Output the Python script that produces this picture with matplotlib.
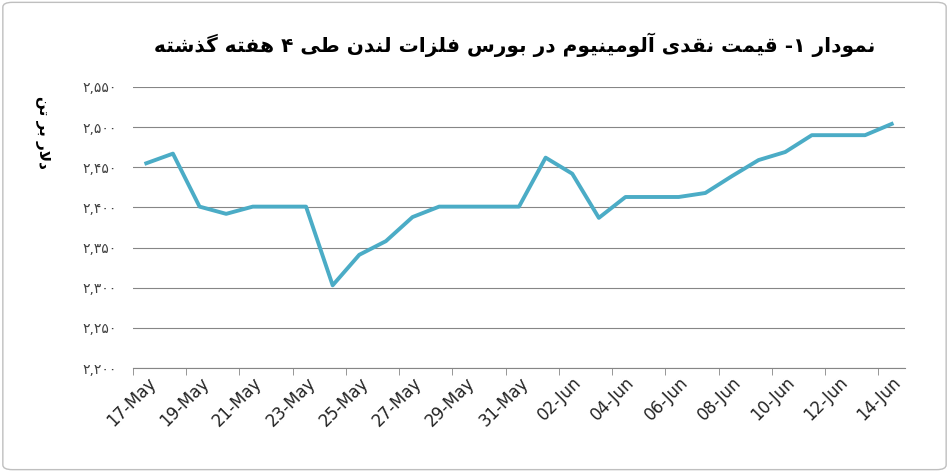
import matplotlib
matplotlib.use("Agg")
import matplotlib.pyplot as plt
from matplotlib.patches import FancyBboxPatch

dates = ["17-May","18-May","19-May","20-May","21-May","22-May","23-May","24-May","25-May","26-May",
         "27-May","28-May","29-May","30-May","31-May","01-Jun","02-Jun","03-Jun","04-Jun","05-Jun",
         "06-Jun","07-Jun","08-Jun","09-Jun","10-Jun","11-Jun","12-Jun","13-Jun","14-Jun"]
values = [2455,2467,2401,2392,2401,2401,2401,2303,2341,2358,
          2388,2401,2401,2401,2401,2462,2442,2387,2413,2413,
          2413,2418,2439,2459,2469,2490,2490,2490,2504]
yticks = [2200,2250,2300,2350,2400,2450,2500,2550]
title = "نمودار ۱- قیمت نقدی آلومینیوم در بورس فلزات لندن طی ۴ هفته گذشته"
ylabel = "دلار بر تن"

FORMS = {  # iso, fin, ini, med
 'ا':(0xFE8D,0xFE8E,None,None),'آ':(0xFE81,0xFE82,None,None),
 'ب':(0xFE8F,0xFE90,0xFE91,0xFE92),'ت':(0xFE95,0xFE96,0xFE97,0xFE98),
 'د':(0xFEA9,0xFEAA,None,None),'ذ':(0xFEAB,0xFEAC,None,None),
 'ر':(0xFEAD,0xFEAE,None,None),'ز':(0xFEAF,0xFEB0,None,None),
 'س':(0xFEB1,0xFEB2,0xFEB3,0xFEB4),'ش':(0xFEB5,0xFEB6,0xFEB7,0xFEB8),
 'ط':(0xFEC1,0xFEC2,0xFEC3,0xFEC4),'ف':(0xFED1,0xFED2,0xFED3,0xFED4),
 'ق':(0xFED5,0xFED6,0xFED7,0xFED8),'ل':(0xFEDD,0xFEDE,0xFEDF,0xFEE0),
 'م':(0xFEE1,0xFEE2,0xFEE3,0xFEE4),'ن':(0xFEE5,0xFEE6,0xFEE7,0xFEE8),
 'ه':(0xFEE9,0xFEEA,0xFEEB,0xFEEC),'و':(0xFEED,0xFEEE,None,None),
 'ی':(0xFBFC,0xFBFD,0xFBFE,0xFBFF),'گ':(0xFB92,0xFB93,0xFB94,0xFB95),
}
def shape(s):
    chars = list(s)
    out = []
    i = 0
    while i < len(chars):
        c = chars[i]
        if c not in FORMS:
            out.append(c); i += 1; continue
        prev = chars[i-1] if i > 0 else ''
        join_prev = prev in FORMS and FORMS[prev][2] is not None
        if c == 'ل' and i+1 < len(chars) and chars[i+1] == 'ا':
            out.append(chr(0xFEFC if join_prev else 0xFEFB)); i += 2; continue
        nxt = chars[i+1] if i+1 < len(chars) else ''
        can_next = FORMS[c][2] is not None and nxt in FORMS
        f = FORMS[c]
        if join_prev and can_next: g = f[3]
        elif join_prev: g = f[1]
        elif can_next: g = f[2]
        else: g = f[0]
        out.append(chr(g)); i += 1
    return ''.join(out)[::-1]

def fa_num(n):
    s = f"{n:,}"
    return s.translate(str.maketrans("0123456789", "۰۱۲۳۴۵۶۷۸۹"))

fig = plt.figure(figsize=(9.49, 4.72), dpi=100)
fig.patches.append(FancyBboxPatch((0.003, 0.005), 0.994, 0.99, boxstyle="round,pad=0,rounding_size=0.01",
                                  transform=fig.transFigure, fill=False, ec="#BFBFBF", lw=1))
ax = fig.add_axes([133/949, 1-368/472, (905-133)/949, (368-87)/472])
x = list(range(len(dates)))
ax.plot(x, values, color="#4BACC6", lw=2.8)
ax.set_xlim(-0.5, len(dates)-0.5)
ax.set_ylim(2200, 2550)
ax.set_yticks(yticks)
ax.set_yticklabels([fa_num(v) for v in yticks], fontfamily="DejaVu Sans", fontsize=10, color="#404040")
ax.yaxis.grid(True, color="#868686", lw=0.8)
ax.set_axisbelow(True)
for s in ["top", "right", "left"]:
    ax.spines[s].set_visible(False)
ax.spines["bottom"].set_color("#868686")
ax.tick_params(axis="y", length=0, pad=12)
ax.set_xticks(x[::2])
ax.set_xticklabels(dates[::2], rotation=45, ha="right", rotation_mode="anchor", fontsize=12, color="#222222")
ax.set_xticks([i - 0.5 for i in range(0, len(dates)+1, 2)], minor=True)
ax.tick_params(axis="x", which="major", length=0, pad=4)
ax.tick_params(axis="x", which="minor", length=5, color="#868686")
fig.text(0.542, 0.905, shape(title), ha="center", va="center", fontsize=14.5, fontweight="bold",
         fontfamily="DejaVu Sans")
fig.text(0.045, 0.72, shape(ylabel), ha="center", va="center", rotation=-90, fontsize=11,
         fontweight="bold", fontfamily="DejaVu Sans")
fig.savefig("out.png", dpi=100)
